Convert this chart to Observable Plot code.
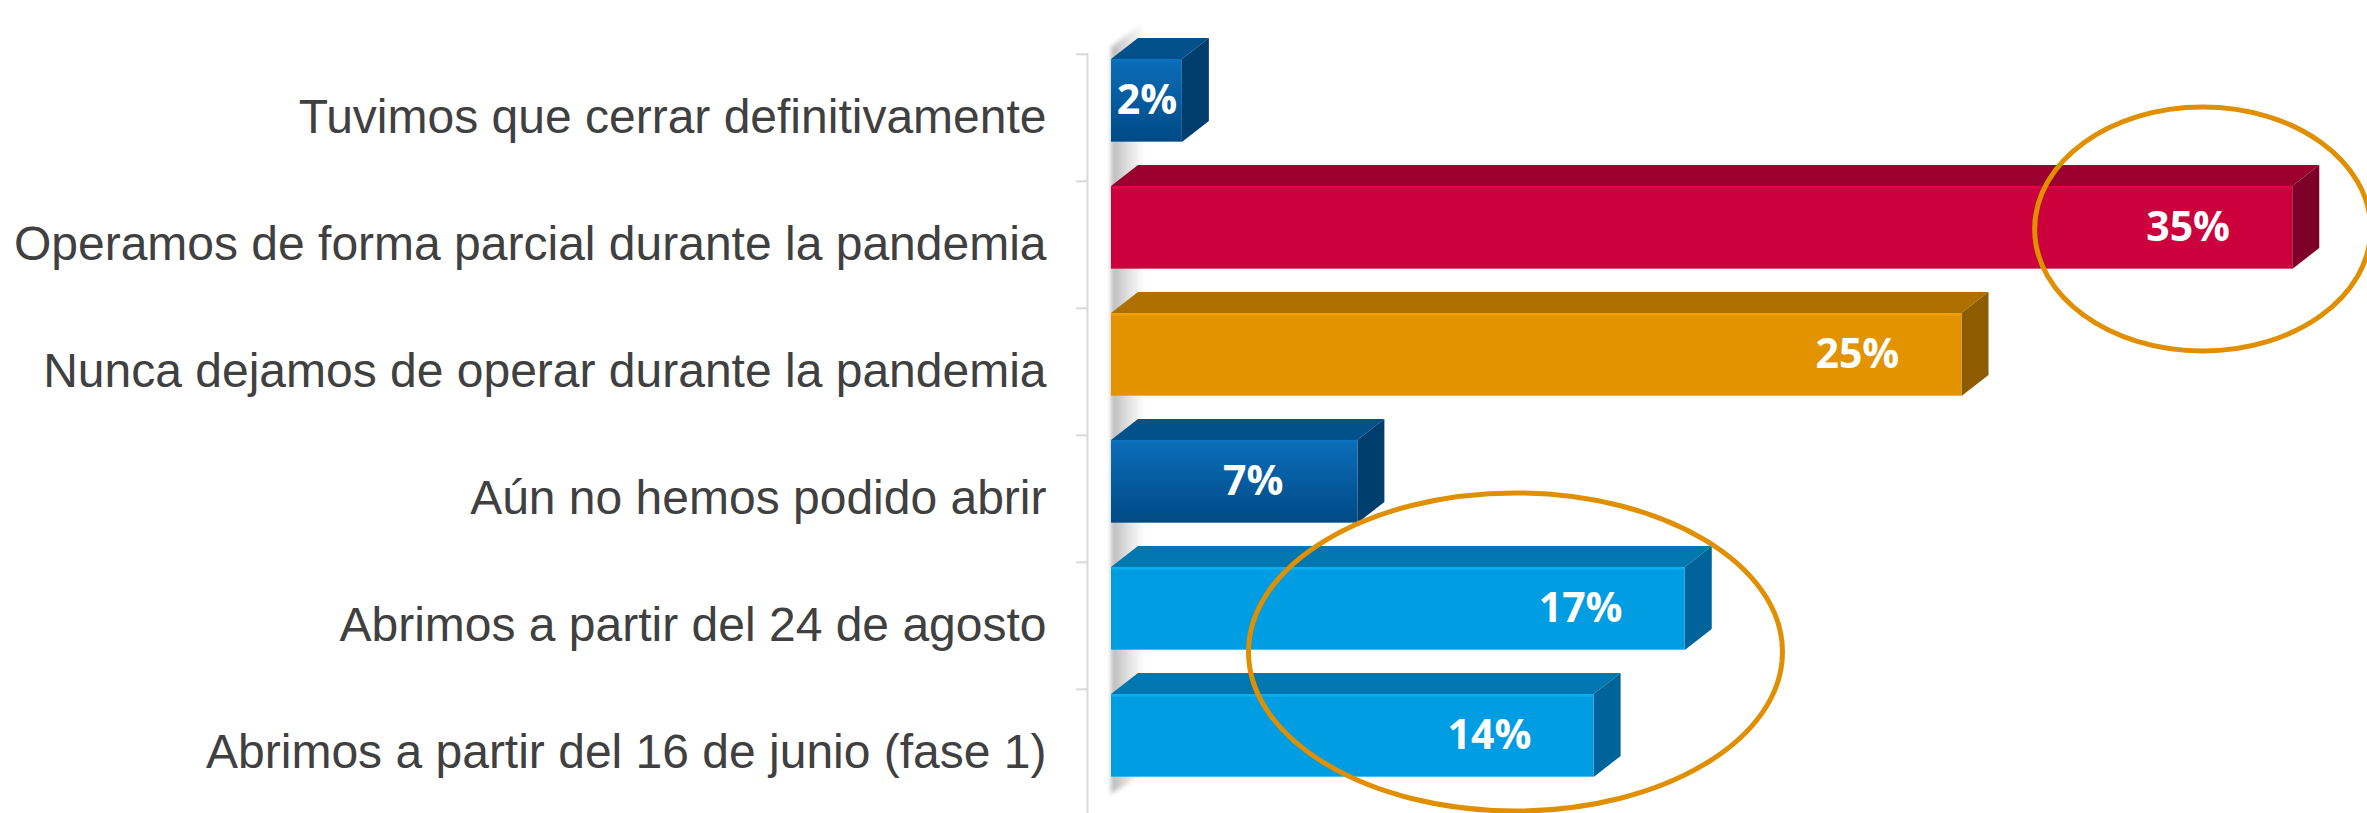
<!DOCTYPE html>
<html>
<head>
<meta charset="utf-8">
<script src="https://cdn.jsdelivr.net/npm/d3@7"></script>
<script src="https://cdn.jsdelivr.net/npm/@observablehq/plot@0.6"></script>
<style>
  html, body { margin: 0; padding: 0; background: #ffffff; overflow: hidden; }
  #chart svg { display: block; }
</style>
</head>
<body>
<div id="chart"></div>
<script>
// ---- data ----
const categories = [
  "Tuvimos que cerrar definitivamente",
  "Operamos de forma parcial durante la pandemia",
  "Nunca dejamos de operar durante la pandemia",
  "Aún no hemos podido abrir",
  "Abrimos a partir del 24 de agosto",
  "Abrimos a partir del 16 de junio (fase 1)"
];
const values = [2.1, 35, 25.2, 7.3, 17, 14.3];
const highlighted = ["Operamos de forma parcial durante la pandemia", "Abrimos a partir del 24 de agosto"];

// ---- styles ----
const frontColors = ["url(#gDark)", "#cc003d", "#e39200", "url(#gDark)", "#009de3", "#009de3"];
const topColors   = ["#02518b", "#9b002f", "#ae7100", "#02518b", "#0077ae", "#0077ae"];
const sideColors  = ["#003e6d", "#7e0029", "#8e5c00", "#003e6d", "#00649a", "#00649a"];
const hiColors    = ["#0b74c0", "#e3004b", "#f0a000", "#0b74c0", "#08b0f2", "#08b0f2"];
const ringColor = "#e08f00";

const rows = categories.map((c, i) => ({category: c, value: values[i], i}));

const FACE_TOP = 5, FACE_H = 83, DEPTH_X = 27, DEPTH_Y = 21;

function ellipseSymbol(aspect) {
  return {
    draw(ctx, size) {
      const rx = Math.sqrt(size / Math.PI), ry = rx / aspect, k = 0.5523;
      ctx.moveTo(rx, 0);
      ctx.bezierCurveTo(rx, k * ry, k * rx, ry, 0, ry);
      ctx.bezierCurveTo(-k * rx, ry, -rx, k * ry, -rx, 0);
      ctx.bezierCurveTo(-rx, -k * ry, -k * rx, -ry, 0, -ry);
      ctx.bezierCurveTo(k * rx, -ry, rx, -k * ry, rx, 0);
      ctx.closePath();
    }
  };
}

// wall shadow (behind everything)
function wallShadow(index, scales) {
  const x = scales.x, y = scales.y, bw = y.bandwidth();
  const g = d3.create("svg:g");
  const defs = g.append("defs");
  const lg = defs.append("linearGradient").attr("id", "gWall").attr("x1", 0).attr("x2", 1).attr("y1", 0).attr("y2", 0);
  lg.append("stop").attr("offset", 0).attr("stop-color", "#b8b8b8");
  lg.append("stop").attr("offset", 0.45).attr("stop-color", "#dcdcdc");
  lg.append("stop").attr("offset", 1).attr("stop-color", "#ffffff");
  const gd = defs.append("linearGradient").attr("id", "gDark").attr("x1", 0).attr("x2", 0).attr("y1", 0).attr("y2", 1);
  gd.append("stop").attr("offset", 0).attr("stop-color", "#0b6db8");
  gd.append("stop").attr("offset", 1).attr("stop-color", "#004a86");
  defs.append("filter").attr("id", "fBlur").append("feGaussianBlur").attr("stdDeviation", 2);
  const x0 = x(0);
  const yTop = y(categories[0]) + FACE_TOP - 12;
  const yBot = y(categories[categories.length - 1]) + bw - 22;
  g.append("path")
    .attr("d", `M${x0},${yTop}L${x0 + DEPTH_X + 6},${yTop - DEPTH_Y - 4}L${x0 + DEPTH_X + 6},${yBot - DEPTH_Y}L${x0},${yBot}Z`)
    .attr("fill", "url(#gWall)")
    .attr("filter", "url(#fBlur)");
  return g.node();
}

// 3D top and side faces of each bar, placed with the plot's scales
function barDepth(index, scales) {
  const x = scales.x, y = scales.y;
  const g = d3.create("svg:g");
  rows.forEach((d) => {
    const x0 = x(0), x1 = x(d.value);
    const y0 = y(d.category) + FACE_TOP, y1 = y0 + FACE_H;
    g.append("path")
      .attr("d", `M${x0},${y0}L${x1},${y0}L${x1 + DEPTH_X},${y0 - DEPTH_Y}L${x0 + DEPTH_X},${y0 - DEPTH_Y}Z`)
      .attr("fill", topColors[d.i]);
    g.append("path")
      .attr("d", `M${x1},${y0}L${x1 + DEPTH_X},${y0 - DEPTH_Y}L${x1 + DEPTH_X},${y1 - DEPTH_Y}L${x1},${y1}Z`)
      .attr("fill", sideColors[d.i]);
  });
  return g.node();
}

const W = 2367, H = 813;
const step = (H + 4 - 53) / categories.length;

const chart = Plot.plot({
  width: W,
  height: H,
  marginLeft: 1111,
  marginRight: 41,
  marginTop: 53,
  marginBottom: -4,
  style: {fontFamily: "'Liberation Sans', Arial, sans-serif", background: "#ffffff", overflow: "visible"},
  x: {domain: [0, 36], axis: null},
  y: {domain: categories, padding: 0, label: null},
  color: {type: "identity"},
  marks: [
    wallShadow,
    Plot.ruleX([0], {dx: -24, stroke: "#d9d9d9", strokeWidth: 2}),
    Plot.axisY({anchor: "left", tickSize: 11, dx: -24, dy: -step / 2, tickFormat: () => "", color: "#d9d9d9", strokeWidth: 2, label: null}),
    Plot.axisY({anchor: "left", tickSize: 0, tickPadding: 65, fontSize: 48, color: "#404040", label: null,
      fontFamily: "'Liberation Sans', Arial, sans-serif"}),
    barDepth,
    Plot.barX(rows, {x1: 0, x2: "value", y: "category", fill: (d) => frontColors[d.i], insetTop: FACE_TOP, insetBottom: step - FACE_TOP - FACE_H}),
    Plot.barX(rows, {x1: 0, x2: "value", y: "category", fill: (d) => hiColors[d.i], insetTop: FACE_TOP, insetBottom: step - FACE_TOP - 3}),
    Plot.text(rows, {
      x: (d) => Math.max(d.value / 2, d.value - 3.1),
      y: "category",
      dy: FACE_TOP + FACE_H / 2 - step / 2,
      text: (d) => `${Math.round(d.value)}%`,
      fill: "#ffffff",
      fontSize: 41,
      fontWeight: 700,
      fontFamily: "'Open Sans', sans-serif",
      textAnchor: "middle"
    }),
    Plot.dot([highlighted[0]], {x: 32.33, y: (d) => d, dy: -16, r: 168, symbol: ellipseSymbol(168 / 122), fill: "none", stroke: ringColor, strokeWidth: 5}),
    Plot.dot([highlighted[1]], {x: 11.97, y: (d) => d, dy: 26, r: 267, symbol: ellipseSymbol(267 / 159), fill: "none", stroke: ringColor, strokeWidth: 5})
  ]
});

document.getElementById("chart").appendChild(chart);
</script>
</body>
</html>
